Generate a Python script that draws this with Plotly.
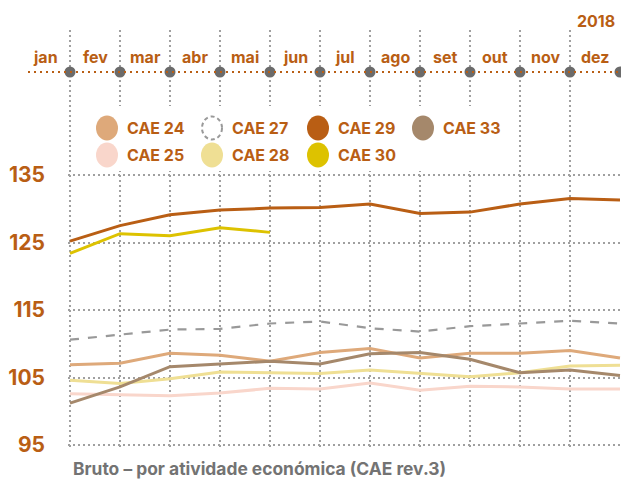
import plotly.graph_objects as go

months = ["jan", "fev", "mar", "abr", "mai", "jun", "jul", "ago", "set", "out", "nov", "dez"]
year_label = "2018"
y_ticks = [95, 105, 115, 125, 135]

cae24 = [106.9, 107.1, 108.6, 108.3, 107.4, 108.7, 109.3, 107.9, 108.6, 108.6, 109.0, 107.9]
cae25 = [102.6, 102.4, 102.3, 102.7, 103.4, 103.3, 104.2, 103.1, 103.7, 103.6, 103.3, 103.3]
cae27 = [110.6, 111.4, 112.1, 112.2, 113.0, 113.3, 112.3, 111.8, 112.6, 113.0, 113.4, 113.0]
cae28 = [104.6, 104.1, 104.8, 105.8, 105.7, 105.6, 106.1, 105.6, 105.1, 105.7, 106.7, 106.8]
cae29 = [125.2, 127.5, 129.1, 129.8, 130.1, 130.2, 130.7, 129.3, 129.5, 130.7, 131.5, 131.3]
cae30 = [123.4, 126.3, 126.0, 127.2, 126.5]
cae33 = [101.2, 103.6, 106.6, 107.0, 107.4, 107.0, 108.5, 108.7, 107.7, 105.7, 106.1, 105.3]

ORANGE = "#B95E14"
GRID = "#a0a0a0"
FONT = "Inter"

series = [
    ("CAE 25", cae25, "#F9D6CB", "solid"),
    ("CAE 28", cae28, "#EFDF94", "solid"),
    ("CAE 24", cae24, "#DEA97A", "solid"),
    ("CAE 33", cae33, "#A5886B", "solid"),
    ("CAE 27", cae27, "#999999", "dash"),
    ("CAE 29", cae29, "#B95E14", "solid"),
    ("CAE 30", cae30, "#DDC200", "solid"),
]

L, R, T, B = 68, 0, 30, 32
W, H = 621, 479

# pixel geometry helpers (x=0 at px 70, 50 px per month; y=95 at px 445, 6.75 px per unit)
def ypx(py):
    return 95 + (445 - py) / 6.75

def xpx(px):
    return (px - 70) / 50.0

def xpaper(px):
    return (px - L) / (W - L - R)

def ypaper(py):
    return (H - B - py) / (H - T - B)

fig = go.Figure()

for name, vals, color, dash in series:
    fig.add_trace(go.Scatter(
        x=list(range(len(vals))), y=vals, mode="lines", name=name,
        line=dict(color=color, width=3 if dash == "solid" else 2.2, dash=dash),
        showlegend=False, hoverinfo="skip",
    ))

# top month axis: dotted orange line + grey dots
fig.add_shape(type="line", xref="paper", yref="paper", x0=xpaper(28), x1=xpaper(622),
              y0=ypaper(72), y1=ypaper(72), line=dict(color=ORANGE, width=2, dash="2px,4px"),
              layer="above")
fig.add_trace(go.Scatter(
    x=list(range(len(months))), y=[ypx(72)] * len(months), mode="markers",
    marker=dict(color="#6b6b6b", size=11), cliponaxis=False, showlegend=False,
    hoverinfo="skip",
))
for i, m in enumerate(months):
    fig.add_annotation(x=xpaper(70 + 50 * i - 25), y=ypaper(57), xref="paper", yref="paper", text=m,
                       xanchor="center", yanchor="middle", showarrow=False,
                       font=dict(family=FONT, size=16, color=ORANGE, weight="bold"))
fig.add_annotation(x=xpaper(596), y=ypaper(21), xref="paper", yref="paper", text=year_label,
                   xanchor="center", yanchor="middle", showarrow=False,
                   font=dict(family=FONT, size=16, color=ORANGE, weight="bold"))

# legend (manual)
fig.add_shape(type="rect", xref="x", yref="y", x0=xpx(74), x1=xpx(514),
              y0=ypx(171), y1=ypx(106), fillcolor="white", line=dict(width=0),
              layer="between")
legend_items = [
    ("CAE 24", "#DEA97A", 0, 0, False),
    ("CAE 27", "#999999", 1, 0, True),
    ("CAE 29", "#B95E14", 2, 0, False),
    ("CAE 33", "#A5886B", 3, 0, False),
    ("CAE 25", "#F9D6CB", 0, 1, False),
    ("CAE 28", "#EFDF94", 1, 1, False),
    ("CAE 30", "#DDC200", 2, 1, False),
]
col_x = [107, 212, 318, 423]
row_y = [128, 155]
for name, color, c, r, dashed in legend_items:
    cx, cy = xpx(col_x[c]), ypx(row_y[r])
    if dashed:
        fig.add_shape(type="circle", xref="x", yref="y", xsizemode="pixel", ysizemode="pixel",
                      xanchor=cx, yanchor=cy, x0=-10, x1=10, y0=-11.5, y1=11.5,
                      line=dict(color="#999999", width=2, dash="4px,3px"), fillcolor="white")
    else:
        fig.add_shape(type="circle", xref="x", yref="y", xsizemode="pixel", ysizemode="pixel",
                      xanchor=cx, yanchor=cy, x0=-11, x1=11, y0=-12.5, y1=12.5,
                      line=dict(width=0), fillcolor=color)
    fig.add_annotation(x=xpx(col_x[c] + 18), y=cy, xref="x", yref="y", text=name,
                       xanchor="left", yanchor="middle", showarrow=False,
                       font=dict(family=FONT, size=16, color=ORANGE, weight="bold"))

fig.add_annotation(x=xpaper(71), y=ypaper(469),
                   xref="paper", yref="paper", text="Bruto – por atividade económica (CAE rev.3)",
                   showarrow=False, xanchor="left", yanchor="middle",
                   font=dict(family=FONT, size=17.4, color="#737373", weight="bold"))

fig.update_xaxes(range=[xpx(L), xpx(W - R)], tickvals=list(range(12)), showticklabels=False,
                 showgrid=True, gridcolor=GRID, gridwidth=2, griddash="2px,3px",
                 zeroline=False, showline=False, ticks="")
fig.update_yaxes(range=[ypx(H - B), ypx(T)], tickvals=y_ticks, ticktext=[str(v) for v in y_ticks],
                 showgrid=True, gridcolor=GRID, gridwidth=2, griddash="2px,3px",
                 zeroline=False, showline=False, ticks="", ticklabelstandoff=22,
                 tickfont=dict(family=FONT, size=21, color=ORANGE, weight="bold"))

fig.update_layout(
    width=W, height=H,
    margin=dict(l=L, r=R, t=T, b=B),
    plot_bgcolor="white", paper_bgcolor="white",
    showlegend=False,
)

fig.write_html("out.html", config={"displayModeBar": False},
               post_script="document.body.style.margin='0';")
